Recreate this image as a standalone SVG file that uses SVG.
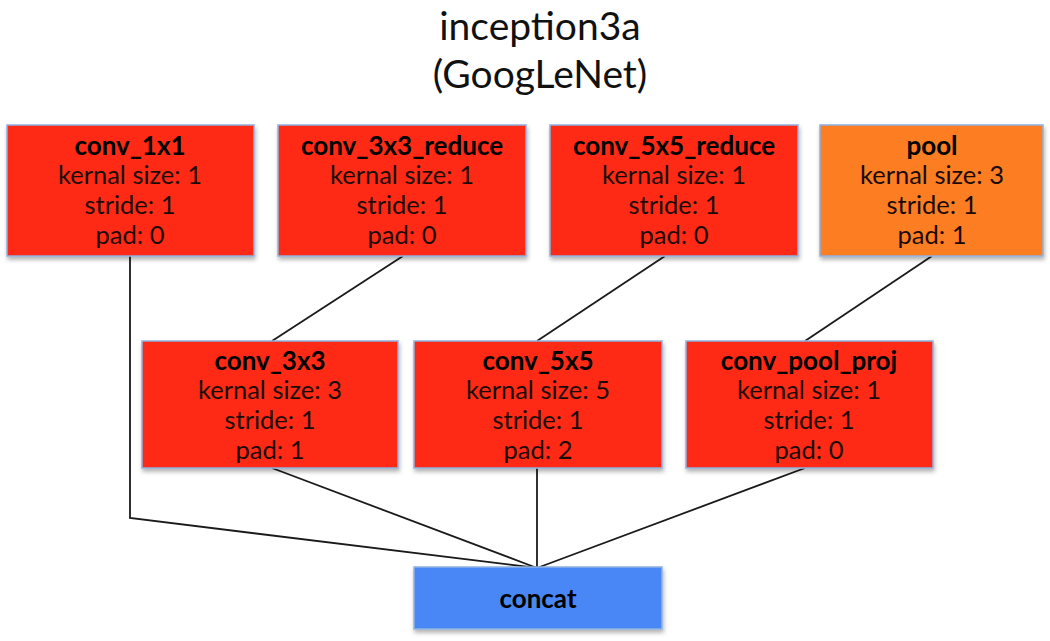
<svg xmlns="http://www.w3.org/2000/svg" width="1050" height="641" viewBox="0 0 1050 641">
<defs>
<filter id="sh" x="-5%" y="-5%" width="115%" height="120%"><feDropShadow dx="1" dy="3" stdDeviation="2" flood-color="#000" flood-opacity="0.3"/></filter>
</defs>
<style>
.box{stroke:#8fb3e0;stroke-width:1.5;filter:url(#sh)}
.red{fill:#fe2b17}
.orange{fill:#fd7e20}
.blue{fill:#4a87f6}
text{font-family:Lato,"Open Sans","Liberation Sans",sans-serif;text-anchor:middle;fill:#1a0a08}
.t{font-weight:bold;font-size:26px;fill:#000}
.l{font-size:25.5px}
.title{font-size:39px;fill:#111}
.c{stroke:#1a1a1a;stroke-width:1.8;fill:none}
</style>
<rect width="1050" height="641" fill="#fff"/>
<text class="title" x="540" y="40">inception3a</text>
<text class="title" x="540" y="88">(GoogLeNet)</text>
<g id="connectors">
<polyline class="c" points="130,256 130,518 537,568"/>
<line class="c" x1="403" y1="256" x2="272" y2="341"/>
<line class="c" x1="665" y1="256" x2="537" y2="341"/>
<line class="c" x1="932" y1="256" x2="805" y2="341"/>
<line class="c" x1="272" y1="468" x2="537" y2="568"/>
<line class="c" x1="537" y1="468" x2="537" y2="568"/>
<line class="c" x1="805" y1="468" x2="537" y2="568"/>
</g>
<g id="conv_1x1">
<rect class="box red" x="7" y="125" width="247" height="131"/>
<text class="t" x="130" y="155">conv_1x1</text>
<text class="l" x="130" y="184">kernal size: 1</text>
<text class="l" x="130" y="214">stride: 1</text>
<text class="l" x="130" y="244">pad: 0</text>
</g>
<g id="conv_3x3_reduce">
<rect class="box red" x="278" y="125" width="248" height="131"/>
<text class="t" x="402" y="155">conv_3x3_reduce</text>
<text class="l" x="402" y="184">kernal size: 1</text>
<text class="l" x="402" y="214">stride: 1</text>
<text class="l" x="402" y="244">pad: 0</text>
</g>
<g id="conv_5x5_reduce">
<rect class="box red" x="550" y="125" width="248" height="131"/>
<text class="t" x="674" y="155">conv_5x5_reduce</text>
<text class="l" x="674" y="184">kernal size: 1</text>
<text class="l" x="674" y="214">stride: 1</text>
<text class="l" x="674" y="244">pad: 0</text>
</g>
<g id="pool">
<rect class="box orange" x="820" y="125" width="223" height="131"/>
<text class="t" x="932" y="155">pool</text>
<text class="l" x="932" y="184">kernal size: 3</text>
<text class="l" x="932" y="214">stride: 1</text>
<text class="l" x="932" y="244">pad: 1</text>
</g>
<g id="conv_3x3">
<rect class="box red" x="142" y="341" width="256" height="127"/>
<text class="t" x="270" y="370">conv_3x3</text>
<text class="l" x="270" y="399">kernal size: 3</text>
<text class="l" x="270" y="429">stride: 1</text>
<text class="l" x="270" y="459">pad: 1</text>
</g>
<g id="conv_5x5">
<rect class="box red" x="414" y="341" width="248" height="127"/>
<text class="t" x="538" y="370">conv_5x5</text>
<text class="l" x="538" y="399">kernal size: 5</text>
<text class="l" x="538" y="429">stride: 1</text>
<text class="l" x="538" y="459">pad: 2</text>
</g>
<g id="conv_pool_proj">
<rect class="box red" x="686" y="341" width="247" height="127"/>
<text class="t" x="809" y="370">conv_pool_proj</text>
<text class="l" x="809" y="399">kernal size: 1</text>
<text class="l" x="809" y="429">stride: 1</text>
<text class="l" x="809" y="459">pad: 0</text>
</g>
<g id="concat">
<rect class="box blue" x="414" y="567" width="248" height="62"/>
<text class="t" x="538" y="608">concat</text>
</g>
</svg>
